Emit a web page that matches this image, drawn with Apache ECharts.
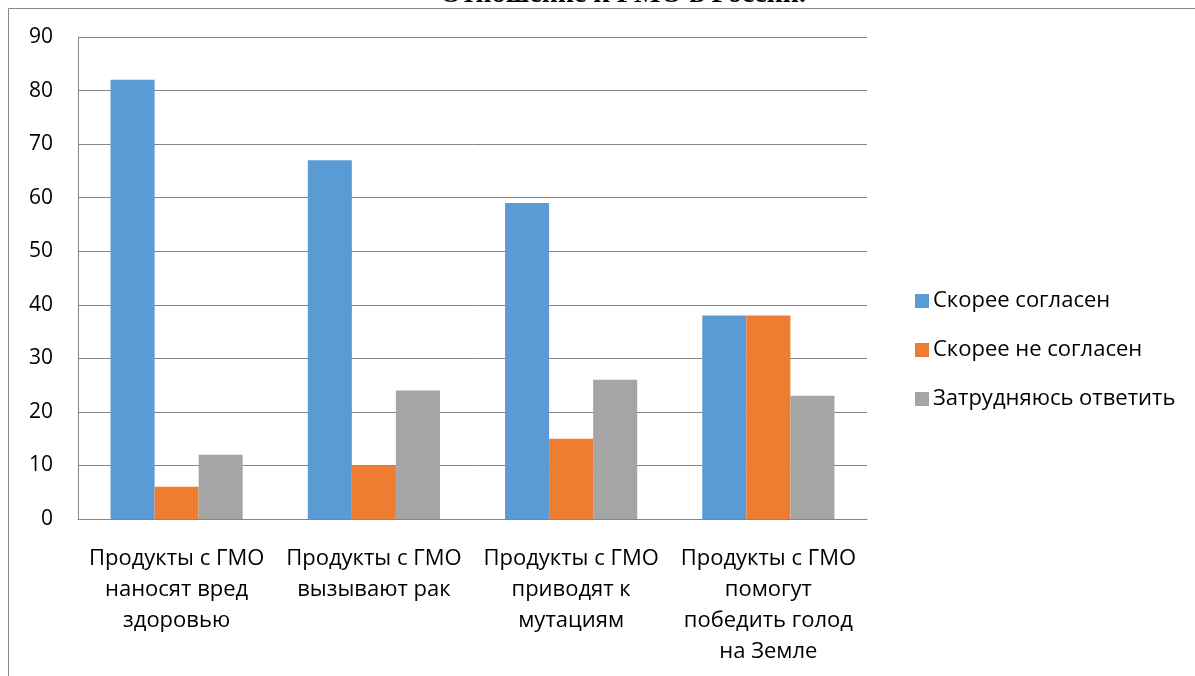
<!DOCTYPE html>
<html><head><meta charset="utf-8">
<script src="https://cdn.jsdelivr.net/npm/echarts@6/dist/echarts.min.js"></script>
<style>html,body{margin:0;padding:0;background:#fff}#c{width:1195px;height:676px}</style>
</head><body><div id="c"></div>
<script>
const titleText = 'Отношение к ГМО в России.';
const categories = [
  'Продукты с ГМО\nнаносят вред\nздоровью',
  'Продукты с ГМО\nвызывают рак',
  'Продукты с ГМО\nприводят к\nмутациям',
  'Продукты с ГМО\nпомогут\nпобедить голод\nна Земле'
];
const seriesNames = ['Скорее согласен', 'Скорее не согласен', 'Затрудняюсь ответить'];
const agree = [82, 67, 59, 38];
const disagree = [6, 10, 15, 38];
const unsure = [12, 24, 26, 23];
const colors = ['#5B9BD5', '#ED7D31', '#A5A5A5'];
const font = 'Open Sans';

const chart = echarts.init(document.getElementById('c'));
chart.setOption({
  animation: false,
  color: colors,
  textStyle: {fontFamily: font},
  graphic: [
    {type: 'line', shape: {x1: 8.5, y1: 8.5, x2: 1195, y2: 8.5}, style: {stroke: '#868686', lineWidth: 1}},
    {type: 'line', shape: {x1: 8.5, y1: 8.5, x2: 8.5, y2: 676}, style: {stroke: '#868686', lineWidth: 1}},
    {type: 'text', x: 623, y: 9, style: {text: titleText, font: 'bold 28px "Liberation Serif"', fill: '#000', textAlign: 'center', textVerticalAlign: 'bottom'}}
  ],
  grid: {left: 78, top: 37, right: 328, bottom: 157, containLabel: false},
  legend: {
    orient: 'vertical', left: 910, top: 285,
    itemWidth: 14, itemHeight: 14, itemGap: 27,
    icon: 'rect',
    textStyle: {fontFamily: font, fontSize: 22, color: '#000', padding: [0, 0, 0, -1]},
    data: seriesNames
  },
  xAxis: {
    type: 'category', data: categories,
    axisLine: {lineStyle: {color: '#868686', width: 1}},
    axisTick: {show: false},
    axisLabel: {color: '#000', fontSize: 22, lineHeight: 31, margin: 24, interval: 0, fontFamily: font}
  },
  yAxis: {
    type: 'value', min: 0, max: 90, interval: 10,
    axisLine: {show: true, lineStyle: {color: '#868686', width: 1}},
    axisTick: {show: false},
    splitLine: {lineStyle: {color: '#868686', width: 1}},
    axisLabel: {color: '#000', fontSize: 21, margin: 25, fontFamily: font}
  },
  series: [
    {name: seriesNames[0], type: 'bar', data: agree, barGap: '0%', barCategoryGap: '33%'},
    {name: seriesNames[1], type: 'bar', data: disagree, barGap: '0%', barCategoryGap: '33%'},
    {name: seriesNames[2], type: 'bar', data: unsure, barGap: '0%', barCategoryGap: '33%'}
  ]
});
</script></body></html>
